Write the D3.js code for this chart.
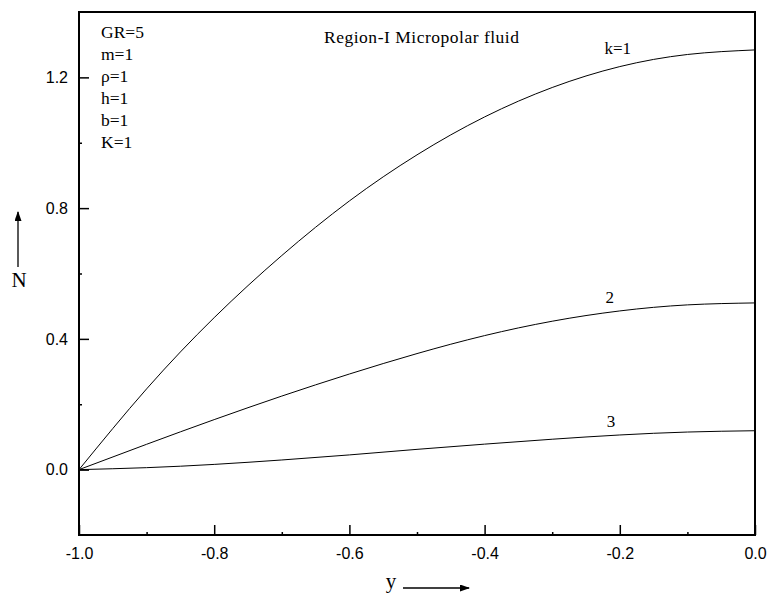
<!DOCTYPE html>
<html>
<head>
<meta charset="utf-8">
<script src="https://cdn.jsdelivr.net/npm/d3@7"></script>
<style>
  body { margin: 0; background: #fff; }
  svg text { fill: #000; }
</style>
</head>
<body>
<div id="chart"></div>
<script>
// data
const yPos = [-1.0, -0.9, -0.8, -0.7, -0.6, -0.5, -0.4, -0.3, -0.2, -0.1, 0.0];
const nK1 = [0, 0.247, 0.465, 0.655, 0.822, 0.963, 1.079, 1.169, 1.233, 1.27, 1.284];
const nK2 = [0, 0.0775, 0.153, 0.225, 0.2925, 0.355, 0.41, 0.454, 0.4855, 0.504, 0.51];
const nK3 = [0, 0.006, 0.016, 0.0295, 0.045, 0.062, 0.078, 0.093, 0.106, 0.115, 0.119];
const curveLabels = ["k=1", "2", "3"];
const labelY = [-0.203, -0.215, -0.213];
const labelN = [1.27, 0.51, 0.131];
const paramLines = ["GR=5", "m=1", "ρ=1", "h=1", "b=1", "K=1"];
const xMajor = [-1.0, -0.8, -0.6, -0.4, -0.2, 0.0];
const xMinor = [-0.9, -0.7, -0.5, -0.3, -0.1];
const yMajor = [0.0, 0.4, 0.8, 1.2];
const yMinor = [0.2, 0.6, 1.0];

const W = 767, H = 594;
const margin = { top: 12, right: 12, bottom: 59, left: 79 };

const svg = d3.select("#chart").append("svg")
    .attr("width", W)
    .attr("height", H);

const x = d3.scaleLinear()
    .domain([-1, 0])
    .range([margin.left, W - margin.right]);

const y = d3.scaleLinear()
    .domain([-0.2, 1.4])
    .range([H - margin.bottom, margin.top]);

const serif = "'Liberation Serif', 'Times New Roman', serif";
const sans = "'Liberation Sans', Arial, sans-serif";
const fmt = d => d.toFixed(1); // plain hyphen minus, as in the original

// curves
const series = [nK1, nK2, nK3];
const line = d3.line()
    .x(d => x(d[0]))
    .y(d => y(d[1]))
    .curve(d3.curveNatural);

svg.append("g")
    .selectAll("path")
    .data(series)
    .join("path")
    .attr("d", s => line(yPos.map((v, i) => [v, s[i]])))
    .attr("fill", "none")
    .attr("stroke", "#000")
    .attr("stroke-width", 1);

// curve labels
svg.append("g")
    .selectAll("text")
    .data(curveLabels)
    .join("text")
    .attr("x", (d, i) => x(labelY[i]))
    .attr("y", (d, i) => y(labelN[i]))
    .attr("text-anchor", "middle")
    .attr("font-family", serif)
    .attr("font-size", 17)
    .text(d => d);

// axes with inward ticks
const xAxis = g => g
    .attr("transform", `translate(0,${H - margin.bottom})`)
    .call(d3.axisBottom(x).tickValues(xMajor).tickSize(-10).tickPadding(13)
        .tickFormat(fmt));

const xMinorAxis = g => g
    .attr("transform", `translate(0,${H - margin.bottom})`)
    .call(d3.axisBottom(x).tickValues(xMinor).tickSize(-3).tickFormat(""));

const yAxis = g => g
    .attr("transform", `translate(${margin.left},0)`)
    .call(d3.axisLeft(y).tickValues(yMajor).tickSize(-10).tickPadding(11)
        .tickFormat(fmt));

const yMinorAxis = g => g
    .attr("transform", `translate(${margin.left},0)`)
    .call(d3.axisLeft(y).tickValues(yMinor).tickSize(-3).tickFormat(""));

[xAxis, xMinorAxis, yAxis, yMinorAxis].forEach(a => {
    const g = svg.append("g").call(a);
    g.select(".domain").remove();
    g.selectAll(".tick line").attr("stroke", "#000").attr("stroke-width", 1.5);
    g.selectAll(".tick text")
        .attr("font-family", sans)
        .attr("font-size", 16)
        .attr("fill", "#000");
});

// frame
svg.append("rect")
    .attr("x", margin.left)
    .attr("y", margin.top)
    .attr("width", W - margin.left - margin.right)
    .attr("height", H - margin.top - margin.bottom)
    .attr("fill", "none")
    .attr("stroke", "#000")
    .attr("stroke-width", 2);

// parameter block
svg.append("g")
    .selectAll("text")
    .data(paramLines)
    .join("text")
    .attr("x", 101)
    .attr("y", (d, i) => 38 + i * 22)
    .attr("font-family", serif)
    .attr("font-size", 17.5)
    .text(d => d);

svg.append("text")
    .attr("x", 324)
    .attr("y", 43)
    .attr("font-family", serif)
    .attr("font-size", 17.5)
    .attr("textLength", 195)
    .text("Region-I Micropolar fluid");

// axis titles with arrows
svg.append("defs").append("marker")
    .attr("id", "arr")
    .attr("viewBox", "0 0 10 10")
    .attr("refX", 9).attr("refY", 5)
    .attr("markerWidth", 10).attr("markerHeight", 7)
    .attr("markerUnits", "userSpaceOnUse")
    .attr("orient", "auto")
    .attr("preserveAspectRatio", "none")
    .append("path")
    .attr("d", "M0,0 L10,5 L0,10 Z")
    .attr("fill", "#000");

svg.append("text")
    .attr("x", 19)
    .attr("y", 287)
    .attr("text-anchor", "middle")
    .attr("font-family", serif)
    .attr("font-size", 21)
    .text("N");

svg.append("line")
    .attr("x1", 18).attr("y1", 267)
    .attr("x2", 18).attr("y2", 212)
    .attr("stroke", "#000")
    .attr("stroke-width", 1.3)
    .attr("marker-end", "url(#arr)");

svg.append("text")
    .attr("x", 391)
    .attr("y", 588)
    .attr("text-anchor", "middle")
    .attr("font-family", serif)
    .attr("font-size", 21)
    .text("y");

svg.append("line")
    .attr("x1", 403).attr("y1", 588)
    .attr("x2", 469).attr("y2", 588)
    .attr("stroke", "#000")
    .attr("stroke-width", 1.3)
    .attr("marker-end", "url(#arr)");
</script>
</body>
</html>
